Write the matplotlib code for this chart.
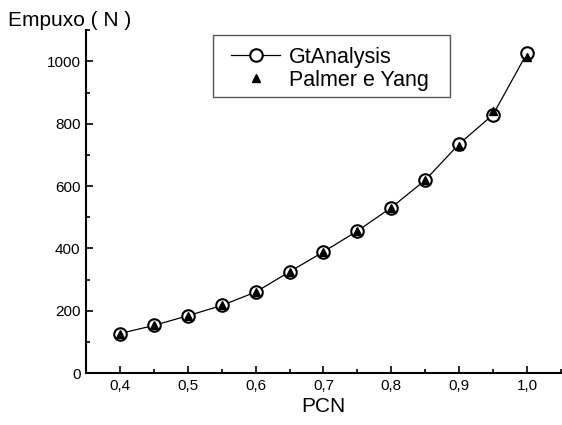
import matplotlib
matplotlib.use("Agg")
import matplotlib.pyplot as plt
from matplotlib.patches import Rectangle
from matplotlib.ticker import MultipleLocator, FuncFormatter

plt.rcParams['font.family'] = ['Liberation Sans', 'DejaVu Sans']

pcn = [0.40, 0.45, 0.50, 0.55, 0.60, 0.65, 0.70, 0.75, 0.80, 0.85, 0.90, 0.95, 1.00]
gt_analysis = [127, 153, 184, 217, 260, 325, 389, 456, 531, 619, 735, 829, 1026]
palmer_yang = [127, 153, 184, 217, 260, 325, 389, 456, 531, 619, 728, 841, 1015]

fig = plt.figure(figsize=(5.62, 4.25), dpi=100)
ax = fig.add_axes([0.153, 0.122, 0.845, 0.807])

ax.plot(pcn, gt_analysis, '-', color='black', lw=0.9, marker='o', ms=9,
        mfc='white', mec='black', mew=1.5, label='GtAnalysis', zorder=2)
ax.plot(pcn, palmer_yang, linestyle='none', marker='^', ms=6, color='black',
        label='Palmer e Yang', zorder=3)

ax.set_xlim(0.35, 1.05)
ax.set_ylim(0, 1100)
ax.xaxis.set_major_locator(MultipleLocator(0.1))
ax.xaxis.set_minor_locator(MultipleLocator(0.05))
ax.yaxis.set_major_locator(MultipleLocator(200))
ax.yaxis.set_minor_locator(MultipleLocator(100))
ax.xaxis.set_major_formatter(FuncFormatter(lambda v, p: f"{v:.1f}".replace('.', ',')))
ax.yaxis.set_major_formatter(FuncFormatter(lambda v, p: f"{v:.0f}"))

for s in ['top', 'right']:
    ax.spines[s].set_visible(False)
for s in ['left', 'bottom']:
    ax.spines[s].set_linewidth(1.5)

ax.tick_params(which='major', direction='in', length=5, width=1.2, labelsize=11, pad=4)
ax.tick_params(which='minor', direction='in', length=3, width=1.2)

ax.set_xlabel('PCN', fontsize=15, labelpad=3)
fig.text(0.014, 0.951, 'Empuxo ( N )', fontsize=15, ha='left', va='center')

# legend frame (drawn separately to match the wide padding of the original)
bx0, by0, bx1, by1 = 0.267, 0.805, 0.766, 0.985
ax.add_patch(Rectangle((bx0, by0), bx1 - bx0, by1 - by0, transform=ax.transAxes,
                       facecolor='white', edgecolor='#555555', lw=1.0, zorder=4,
                       clip_on=False))
leg = ax.legend(loc='center', bbox_to_anchor=((bx0 + bx1) / 2 - 0.003, (by0 + by1) / 2 - 0.008),
                fontsize=15.5, frameon=False,
                handlelength=2.3, handletextpad=0.4, borderpad=0.0,
                borderaxespad=0, labelspacing=0.1)
leg.set_zorder(5)

fig.savefig('out.png', dpi=100)
